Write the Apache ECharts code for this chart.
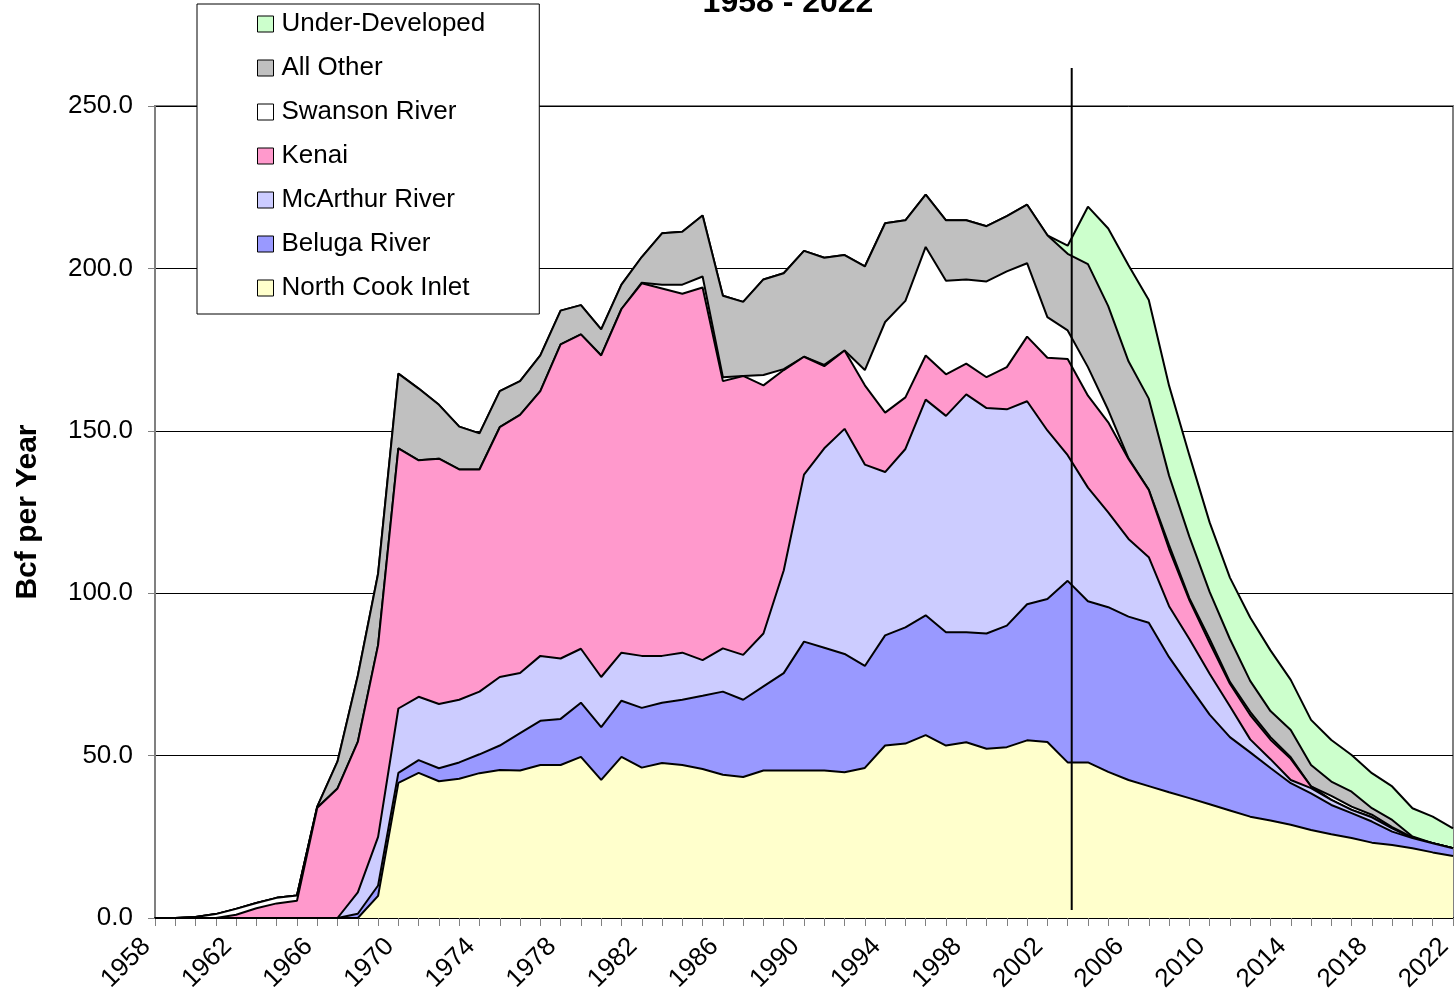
<!DOCTYPE html>
<html>
<head>
<meta charset="utf-8">
<script src="https://cdn.jsdelivr.net/npm/echarts@6/dist/echarts.min.js"></script>
<style>
  html, body { margin: 0; padding: 0; background: #fff; }
  #chart { width: 1456px; height: 1008px; }
</style>
</head>
<body>
<div id="chart"></div>
<script>
// years on the category axis
const years = [
  "1958", "1959", "1960", "1961", "1962", "1963", "1964", "1965", "1966", "1967",
  "1968", "1969", "1970", "1971", "1972", "1973", "1974", "1975", "1976", "1977",
  "1978", "1979", "1980", "1981", "1982", "1983", "1984", "1985", "1986", "1987",
  "1988", "1989", "1990", "1991", "1992", "1993", "1994", "1995", "1996", "1997",
  "1998", "1999", "2000", "2001", "2002", "2003", "2004", "2005", "2006", "2007",
  "2008", "2009", "2010", "2011", "2012", "2013", "2014", "2015", "2016", "2017",
  "2018", "2019", "2020", "2021", "2022"
]

// Bcf per year, one value per year, stacked from the bottom up
const northCookInlet = [
  0, 0, 0, 0, 0, 0, 0, 0, 0, 0, 0, 6.8,
  41.6, 44.7, 42.1, 42.9, 44.6, 45.6, 45.4, 47.1, 47.1, 49.6,
  42.5, 49.6, 46.3, 47.7, 47.1, 45.9, 44.1, 43.4, 45.4, 45.4,
  45.4, 45.4, 44.9, 46.2, 53.1, 53.7, 56.3, 53.1, 54.1, 52.1,
  52.6, 54.7, 54.2, 47.9, 47.9, 45.0, 42.5, 40.6, 38.7, 36.9,
  35.0, 33.1, 31.2, 30.0, 28.7, 27.1, 25.8, 24.6, 23.2, 22.5,
  21.5, 20.2, 19.1
]
const belugaRiver = [
  0, 0, 0, 0, 0, 0, 0, 0, 0, 0, 1.3, 3.2,
  3.1, 3.9, 4.0, 5.0, 5.8, 7.5, 11.5, 13.6, 14.2, 16.7,
  16.3, 17.3, 18.4, 18.6, 20.1, 22.5, 25.6, 23.8, 25.9, 30.0,
  39.7, 37.8, 36.4, 31.4, 33.9, 35.8, 36.9, 34.9, 33.9, 35.5,
  37.4, 41.9, 44.0, 55.9, 49.6, 50.7, 50.3, 50.3, 41.6, 34.5,
  27.6, 22.6, 19.8, 16.2, 12.8, 11.3, 9.0, 7.7, 6.5, 4.1,
  3.1, 2.8, 2.4
]
const mcArthurRiver = [
  0, 0, 0, 0, 0, 0, 0, 0, 0, 0, 6.6, 15.0,
  19.8, 19.5, 19.8, 19.3, 19.3, 21.1, 18.5, 20.0, 18.6, 16.6,
  15.4, 14.8, 16.0, 14.4, 14.5, 11.0, 13.3, 13.8, 16.3, 31.6,
  51.4, 61.4, 69.3, 62.0, 50.3, 54.9, 66.4, 66.6, 73.2, 69.4,
  66.6, 62.5, 51.9, 38.7, 35.0, 29.2, 23.9, 20.2, 15.7, 14.5,
  12.6, 9.5, 4.0, 2.7, 1.0, 1.6, 1.6, 1.0, 1.3, 1.0,
  0, 0, 0
]
const kenai = [
  0, 0, 0, 0, 1.0, 3.0, 4.5, 5.3, 33.9, 39.9, 46.3, 59.0,
  80.1, 72.8, 75.5, 70.9, 68.4, 76.9, 79.5, 81.5, 96.7, 96.8,
  99.0, 105.8, 114.7, 113.1, 110.5, 114.7, 82.3, 85.9, 76.4, 61.7,
  36.3, 25.3, 24.1, 24.4, 18.3, 15.9, 13.6, 12.8, 9.5, 9.5,
  13.0, 19.9, 22.4, 29.6, 28.3, 27.7, 24.6, 20.7, 17.6, 12.0,
  9.5, 6.9, 7.5, 6.0, 6.5, 0.5, 0, 0, 0, 0,
  0, 0, 0
]
const swansonRiver = [
  0, 0, 0.3, 1.2, 1.8, 1.6, 1.7, 1.6, 0.1, 0, 0, 0,
  0, 0, 0, 0, 0, 0, 0, 0, 0, 0,
  0, 0, 0.2, 1.2, 2.8, 3.4, 1.2, 0, 3.2, 0.3,
  0, 0.4, 0, 4.7, 27.9, 29.7, 33.4, 28.8, 25.9, 29.5,
  29.5, 22.6, 12.5, 8.8, 8.8, 3.8, 0.2, 0, 1.2, 0.6,
  1.2, 0.6, 1.0, 0.8, 0.5, 0, 1.2, 1.0, 0.8, 0.4,
  0.2, 0, 0
]
const allOther = [
  0, 0, 0, 0, 0, 0, 0, 0, 0.3, 8.3, 20.4, 22.0,
  23.0, 22.1, 16.6, 13.2, 11.1, 11.1, 10.4, 11.0, 10.4, 9.0,
  8.0, 7.5, 7.9, 15.8, 16.3, 18.8, 25.1, 22.8, 29.4, 29.5,
  32.6, 33.0, 29.4, 31.9, 30.4, 24.8, 16.1, 18.6, 18.2, 17.0,
  17.0, 18.0, 25.2, 23.6, 31.7, 32.0, 29.9, 28.1, 21.4, 18.9,
  14.5, 13.2, 9.5, 8.0, 8.4, 6.6, 4.4, 4.6, 2.0, 2.2,
  0.3, 0, 0
]
const underDeveloped = [
  0, 0, 0, 0, 0, 0, 0, 0, 0, 0, 0, 0,
  0, 0, 0, 0, 0, 0, 0, 0, 0, 0,
  0, 0, 0, 0, 0, 0, 0, 0, 0, 0,
  0, 0, 0, 0, 0, 0, 0, 0, 0, 0,
  0, 0, 0, 2.5, 17.7, 23.9, 29.6, 30.4, 27.7, 25.1,
  21.4, 18.9, 19.5, 18.7, 15.4, 13.9, 12.8, 11.3, 10.8, 10.3,
  8.7, 8.2, 6.1
]

// vertical divider between history and forecast
const dividerYear = 2003.2
const dividerRange = [2.5, 261.7]

const FONT = "'Liberation Sans', Arial, sans-serif"

const layers = [
  { name: "North Cook Inlet", data: northCookInlet, color: "#ffffcc" },
  { name: "Beluga River", data: belugaRiver, color: "#9999ff" },
  { name: "McArthur River", data: mcArthurRiver, color: "#ccccff" },
  { name: "Kenai", data: kenai, color: "#ff99cc" },
  { name: "Swanson River", data: swansonRiver, color: "#ffffff" },
  { name: "All Other", data: allOther, color: "#c0c0c0" },
  { name: "Under-Developed", data: underDeveloped, color: "#ccffcc" }
]

const chart = echarts.init(document.getElementById("chart"))

const series = layers.map((l, i) => ({
  name: l.name,
  type: "line",
  stack: "total",
  data: l.data,
  symbol: "none",
  showSymbol: false,
  // lower layers on top so every outline stays whole
  z: 20 - i,
  color: l.color,
  itemStyle: { color: l.color },
  lineStyle: { color: "#000", width: 2 },
  areaStyle: { color: l.color, opacity: 1 },
  emphasis: { disabled: true }
}))

// the divider, drawn on a hidden numeric year axis so it can sit between ticks
series.push({
  type: "line",
  xAxisIndex: 1,
  data: [[dividerYear, dividerRange[0]], [dividerYear, dividerRange[1]]],
  clip: false,
  symbol: "none",
  showSymbol: false,
  silent: true,
  z: 30,
  lineStyle: { color: "#000", width: 2 }
})

chart.setOption({
  animation: false,
  backgroundColor: "#fff",
  textStyle: { fontFamily: FONT },
  title: {
    text: "1958 - 2022",
    left: 783,
    top: -18,
    textAlign: "center",
    textStyle: { fontFamily: FONT, fontSize: 32, fontWeight: "bold", color: "#000" }
  },
  legend: {
    orient: "vertical",
    left: 197,
    top: 4,
    padding: [6, 54, 12, 60],
    itemGap: 16,
    itemWidth: 16,
    itemHeight: 16,
    icon: "rect",
    z: 50,
    backgroundColor: "#fff",
    borderColor: "#000",
    borderWidth: 1,
    selectedMode: false,
    textStyle: { fontFamily: FONT, fontSize: 26, color: "#000", lineHeight: 28, padding: [0, 0, 0, 3] },
    data: layers.slice().reverse().map(l => ({
      name: l.name,
      itemStyle: { color: l.color, borderColor: "#000", borderWidth: 1 }
    }))
  },
  grid: {
    left: 155, right: 3, top: 106, bottom: 90,
    outerBoundsMode: "none",
    show: true, borderColor: "#808080", borderWidth: 2
  },
  xAxis: [{
    type: "category",
    data: years,
    boundaryGap: false,
    axisLine: { lineStyle: { color: "#000", width: 2 } },
    axisTick: { interval: 0, length: 8, lineStyle: { color: "#808080" } },
    axisLabel: {
      interval: 3, rotate: 45, fontSize: 26, color: "#000", margin: 16,
      padding: [0, 12, 0, 0], fontFamily: FONT
    },
    splitLine: { show: false }
  }, {
    type: "value",
    min: 1958,
    max: 2022,
    show: false
  }],
  yAxis: {
    type: "value",
    min: 0,
    max: 250,
    interval: 50,
    name: "Bcf per Year",
    nameLocation: "middle",
    nameGap: 112,
    nameTextStyle: {
      fontFamily: "'Liberation Sans Narrow', 'Liberation Sans', Arial, sans-serif",
      fontSize: 30, fontWeight: "bold", color: "#000"
    },
    axisLine: { show: true, lineStyle: { color: "#808080", width: 2 } },
    axisTick: { show: true, length: 7, lineStyle: { color: "#808080" } },
    axisLabel: { formatter: v => v.toFixed(1), fontSize: 26, color: "#000", margin: 22, fontFamily: FONT },
    splitLine: { lineStyle: { color: "#000", width: 1 } }
  },
  series: series
})
</script>
</body>
</html>
